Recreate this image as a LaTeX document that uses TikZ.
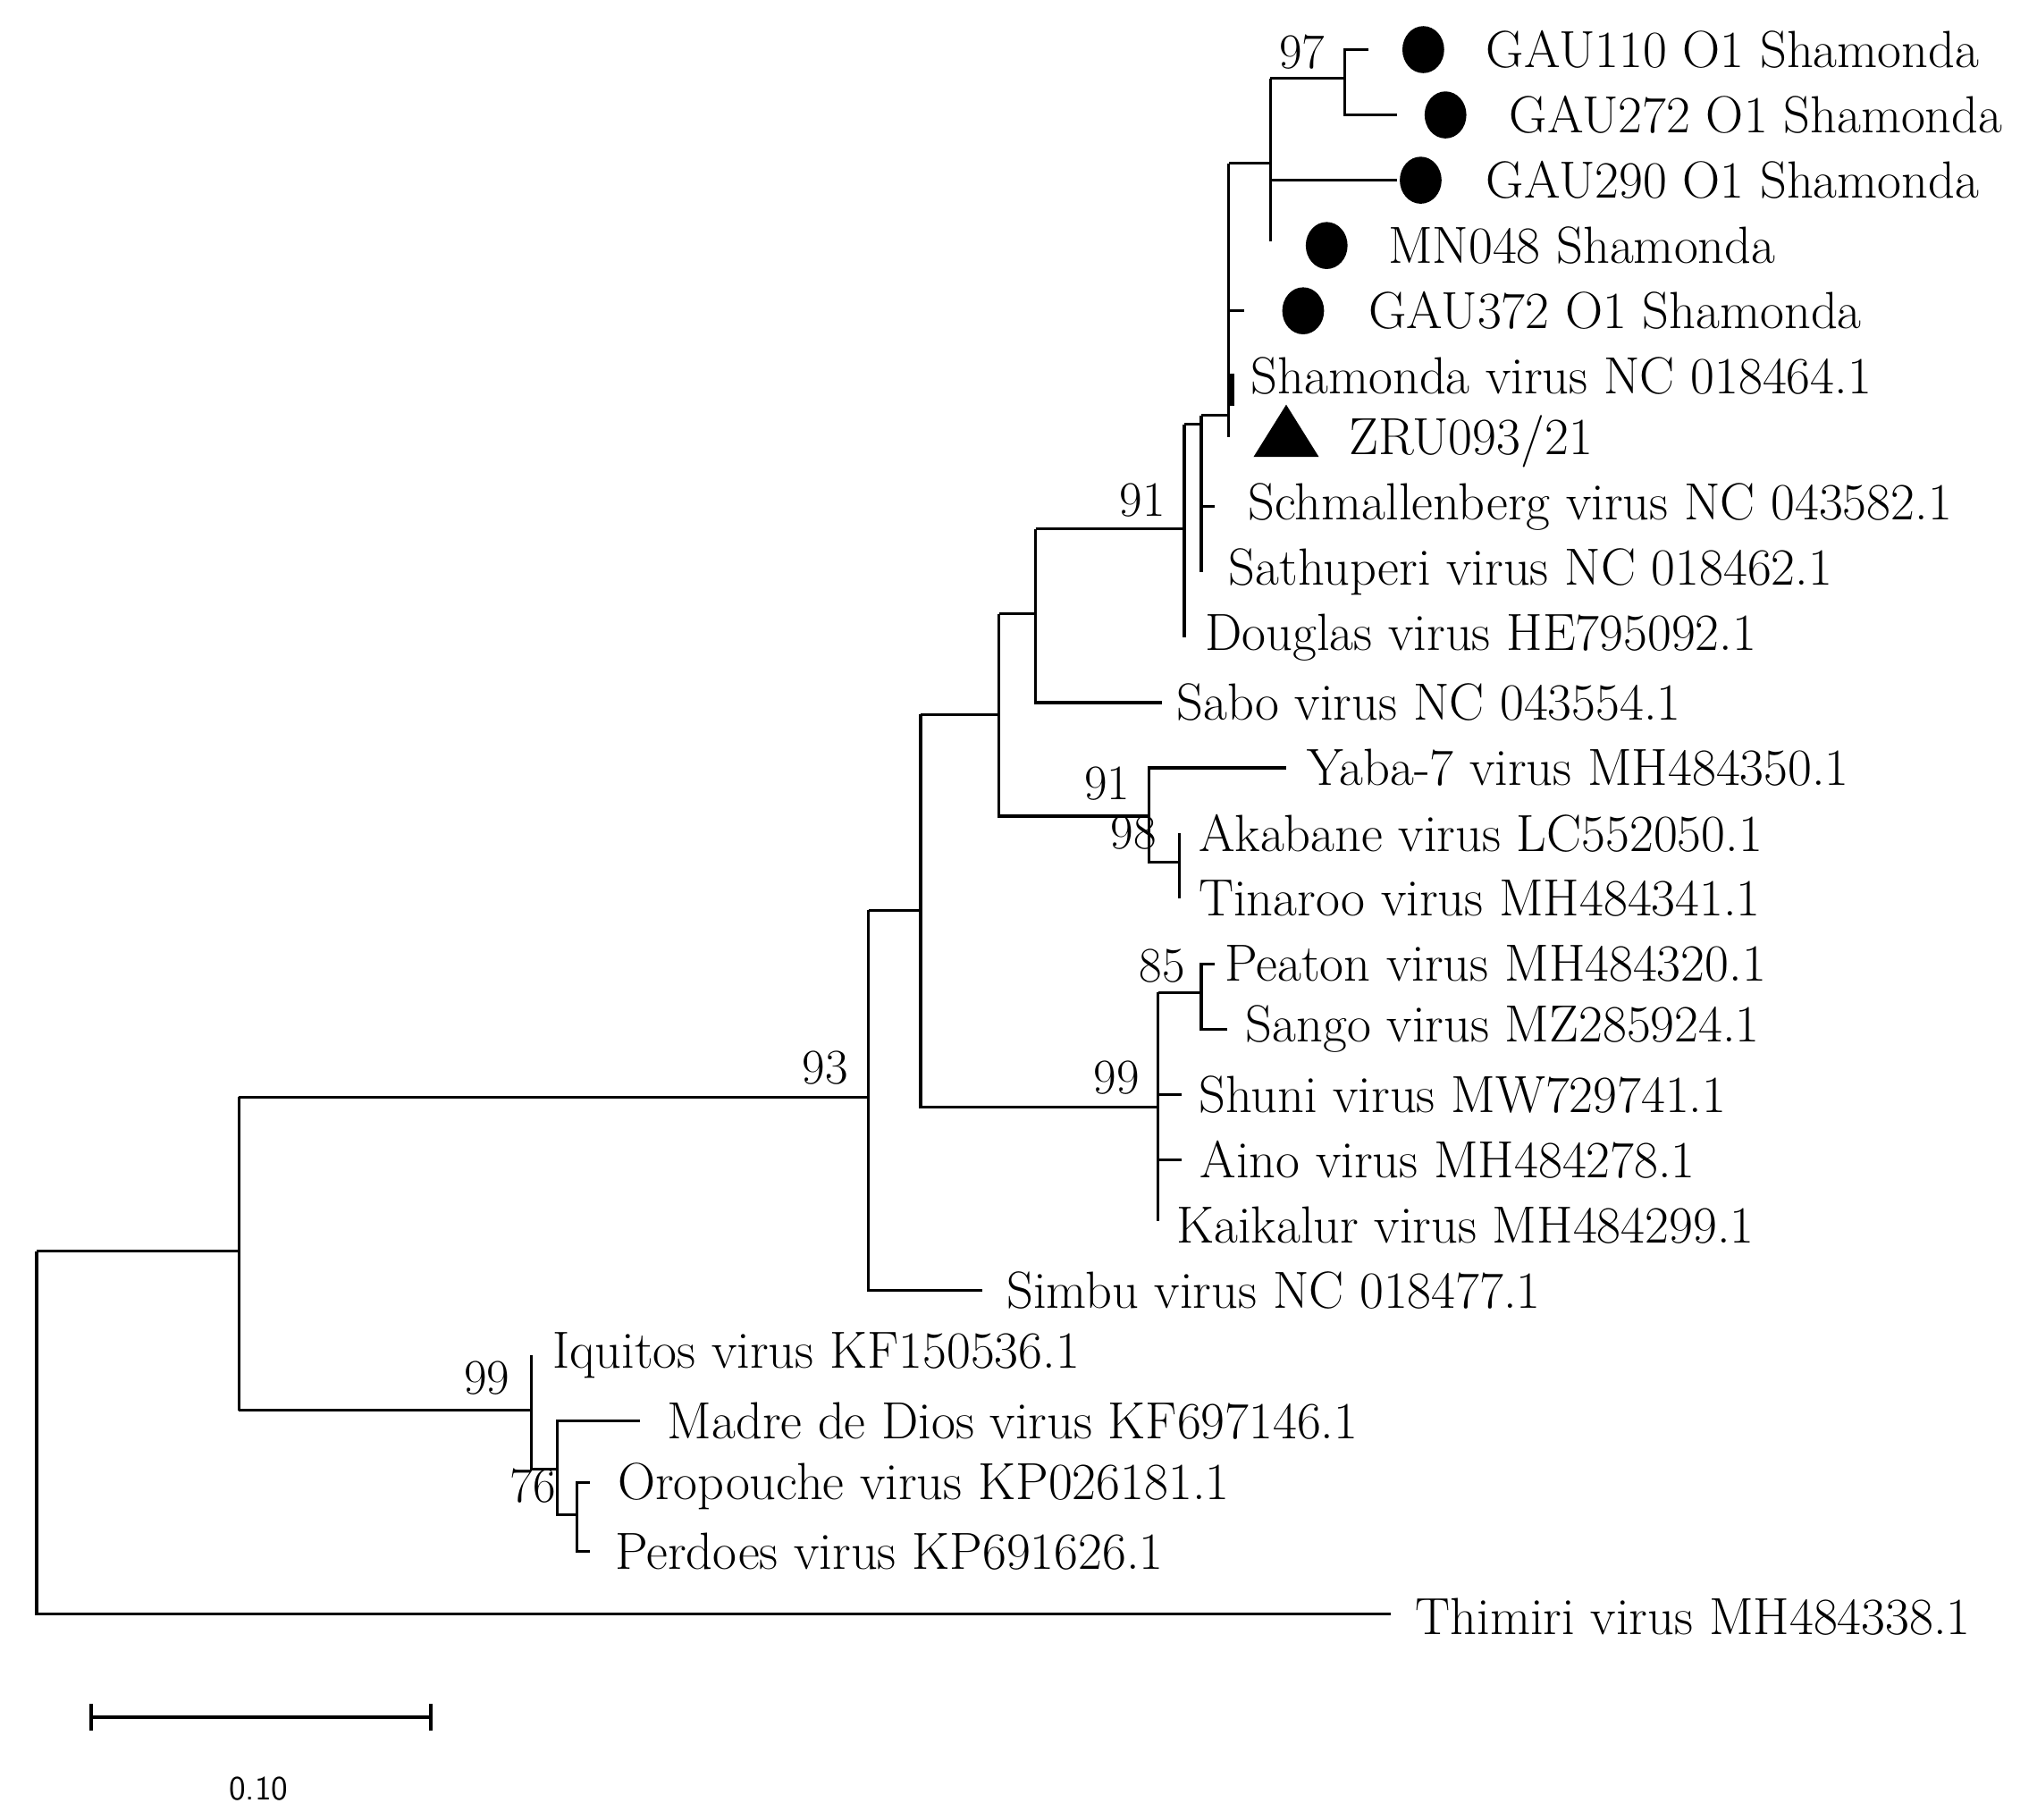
\documentclass[tikz,border=0pt]{standalone}
\usetikzlibrary{shapes.geometric}
\begin{document}
\begin{tikzpicture}[x=0.5pt,y=-0.5pt,line width=1.1pt,
  leaf/.style={anchor=west,inner sep=0pt,font=\fontsize{20}{22}\selectfont},
  bs/.style={inner sep=0pt,font=\fontsize{19}{21}\selectfont},
  dot/.style={ellipse,fill=black,minimum width=16pt,minimum height=18pt,inner sep=0pt},
  tri/.style={isosceles triangle,shape border rotate=90,isosceles triangle apex angle=64,fill=black,minimum height=20pt,inner sep=0pt}]
\useasboundingbox (0,0) rectangle (1560,1393);
% leaves
\node[leaf] (l1) at (1137,38) {GAU110 O1 Shamonda};
\node[leaf] (l2) at (1155,88) {GAU272 O1 Shamonda};
\node[leaf] (l3) at (1137,138) {GAU290 O1 Shamonda};
\node[leaf] (l4) at (1062,188) {MN048 Shamonda};
\node[leaf] (l5) at (1047,238) {GAU372 O1 Shamonda};
\node[leaf] (l6) at (957,288) {Shamonda virus NC 018464.1};
\node[leaf] (l7) at (1032,338) {ZRU093/21};
\node[leaf] (l8) at (955,388) {Schmallenberg virus NC 043582.1};
\node[leaf] (l9) at (940,438) {Sathuperi virus NC 018462.1};
\node[leaf] (l10) at (922,488) {Douglas virus HE795092.1};
\node[leaf] (l11) at (900,538) {Sabo virus NC 043554.1};
\node[leaf] (l12) at (1000,588) {Yaba-7 virus MH484350.1};
\node[leaf] (l13) at (917,638) {Akabane virus LC552050.1};
\node[leaf] (l14) at (917,688) {Tinaroo virus MH484341.1};
\node[leaf] (l15) at (937,738) {Peaton virus MH484320.1};
\node[leaf] (l16) at (953,788) {Sango virus MZ285924.1};
\node[leaf] (l17) at (917,838) {Shuni virus MW729741.1};
\node[leaf] (l18) at (918,888) {Aino virus MH484278.1};
\node[leaf] (l19) at (900,938) {Kaikalur virus MH484299.1};
\node[leaf] (l20) at (770,988) {Simbu virus NC 018477.1};
\node[leaf] (l21) at (422,1038) {Iquitos virus KF150536.1};
\node[leaf] (l22) at (510,1088) {Madre de Dios virus KF697146.1};
\node[leaf] (l23) at (472,1138) {Oropouche virus KP026181.1};
\node[leaf] (l24) at (470,1188) {Perdoes virus KP691626.1};
\node[leaf] (l25) at (1083,1238) {Thimiri virus MH484338.1};
% markers
\node[dot] (m1) at (1090,38) {};
\node[dot] (m2) at (1107,88) {};
\node[dot] (m3) at (1088,138) {};
\node[dot] (m4) at (1016,188) {};
\node[dot] (m5) at (998,238) {};
\node[tri] (m7) at (985,336) {};
% branches
\draw (28,958) -- (28,1236) -- (1065,1236);
\draw (28,958) -- (183,958);
\draw (183,840) -- (183,1080);
\draw (183,840) -- (665,840);
\draw (183,1080) -- (407,1080);
\draw (665,697) -- (665,988) -- (752,988);
\draw (665,697) -- (705,697);
\draw (705,547) -- (705,848) -- (887,848);
\draw (705,547) -- (765,547);
\draw (765,470) -- (765,625) -- (880,625);
\draw (765,470) -- (793,470);
\draw (793,405) -- (907,405);
\draw (793,405) -- (793,538) -- (890,538);
\draw (907,325) -- (907,488);
\draw (907,325) -- (920,325);
\draw (920,318) -- (920,438);
\draw (920,388) -- (930,388);
\draw (920,318) -- (941,318);
\draw (941,125) -- (941,335);
\draw (941,238) -- (953,238);
\draw[line width=2pt] (943,286) -- (943,311);
\draw (941,125) -- (973,125);
\draw (973,60) -- (973,185);
\draw (973,138) -- (1070,138);
\draw (973,60) -- (1030,60);
\draw (1048,38) -- (1030,38) -- (1030,88) -- (1070,88);
\draw (985,588) -- (880,588) -- (880,660) -- (903,660);
\draw (903,638) -- (903,688);
\draw (887,760) -- (887,935);
\draw (887,760) -- (920,760);
\draw (930,738) -- (920,738) -- (920,788) -- (940,788);
\draw (887,838) -- (905,838);
\draw (887,888) -- (905,888);
\draw (407,1038) -- (407,1125) -- (427,1125);
\draw (490,1088) -- (427,1088) -- (427,1160) -- (442,1160);
\draw (452,1135) -- (442,1135) -- (442,1188) -- (452,1188);
% bootstrap
\node[bs] (b97) at (997,40) {97};
\node[bs] (b93) at (632,818) {93};
\node[bs] (b91a) at (875,383) {91};
\node[bs] (b91b) at (848,600) {91};
\node[bs] (b98) at (868,638) {98};
\node[bs] (b85) at (890,740) {85};
\node[bs] (b99a) at (855,825) {99};
\node[bs] (b99b) at (373,1055) {99};
\node[bs] (b76) at (408,1138) {76};
% scale
\draw[line width=1.3pt] (70,1315) -- (330,1315);
\draw[line width=1.3pt] (70,1305) -- (70,1325);
\draw[line width=1.3pt] (330,1305) -- (330,1325);
\node[inner sep=0pt,font=\sffamily\fontsize{13}{15}\selectfont] (sc) at (198,1370) {0.10};
\end{tikzpicture}
\end{document}
